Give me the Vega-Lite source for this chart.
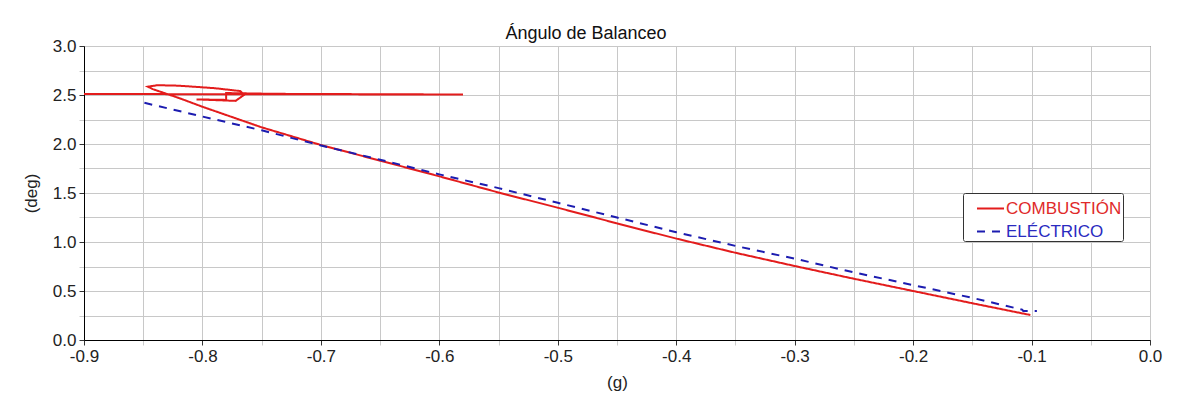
{
  "$schema": "https://vega.github.io/schema/vega-lite/v6.json",
  "width": 1066,
  "height": 294,
  "autosize": {"type": "none"},
  "padding": {"left": 84, "top": 46, "right": 42, "bottom": 68},
  "background": "#ffffff",
  "config": {
    "font": "Liberation Sans",
    "view": {"stroke": "#333333", "strokeWidth": 1}
  },
  "title": {
    "text": "Ángulo de Balanceo",
    "font": "Liberation Sans",
    "fontSize": 18,
    "fontWeight": "normal",
    "color": "#111111",
    "anchor": "middle",
    "dx": -31,
    "dy": 28,
    "baseline": "alphabetic",
    "offset": 8
  },
  "data": {
    "values": [
      {"s": "COMBUSTIÓN", "i": 0, "x": -0.9, "y": 2.51},
      {"s": "COMBUSTIÓN", "i": 1, "x": -0.58, "y": 2.505},
      {"s": "COMBUSTIÓN", "i": 2, "x": -0.7, "y": 2.51},
      {"s": "COMBUSTIÓN", "i": 3, "x": -0.74, "y": 2.512},
      {"s": "COMBUSTIÓN", "i": 4, "x": -0.78, "y": 2.52},
      {"s": "COMBUSTIÓN", "i": 5, "x": -0.78, "y": 2.45},
      {"s": "COMBUSTIÓN", "i": 6, "x": -0.805, "y": 2.455},
      {"s": "COMBUSTIÓN", "i": 7, "x": -0.772, "y": 2.44},
      {"s": "COMBUSTIÓN", "i": 8, "x": -0.765, "y": 2.5},
      {"s": "COMBUSTIÓN", "i": 9, "x": -0.768, "y": 2.54},
      {"s": "COMBUSTIÓN", "i": 10, "x": -0.79, "y": 2.57},
      {"s": "COMBUSTIÓN", "i": 11, "x": -0.82, "y": 2.595},
      {"s": "COMBUSTIÓN", "i": 12, "x": -0.838, "y": 2.6},
      {"s": "COMBUSTIÓN", "i": 13, "x": -0.846, "y": 2.585},
      {"s": "COMBUSTIÓN", "i": 14, "x": -0.842, "y": 2.56},
      {"s": "COMBUSTIÓN", "i": 15, "x": -0.82, "y": 2.47},
      {"s": "COMBUSTIÓN", "i": 16, "x": -0.8, "y": 2.38},
      {"s": "COMBUSTIÓN", "i": 17, "x": -0.75, "y": 2.17},
      {"s": "COMBUSTIÓN", "i": 18, "x": -0.7, "y": 1.99},
      {"s": "COMBUSTIÓN", "i": 19, "x": -0.65, "y": 1.83},
      {"s": "COMBUSTIÓN", "i": 20, "x": -0.6, "y": 1.67},
      {"s": "COMBUSTIÓN", "i": 21, "x": -0.55, "y": 1.505},
      {"s": "COMBUSTIÓN", "i": 22, "x": -0.5, "y": 1.35},
      {"s": "COMBUSTIÓN", "i": 23, "x": -0.45, "y": 1.19},
      {"s": "COMBUSTIÓN", "i": 24, "x": -0.4, "y": 1.035},
      {"s": "COMBUSTIÓN", "i": 25, "x": -0.35, "y": 0.89},
      {"s": "COMBUSTIÓN", "i": 26, "x": -0.3, "y": 0.755},
      {"s": "COMBUSTIÓN", "i": 27, "x": -0.25, "y": 0.625},
      {"s": "COMBUSTIÓN", "i": 28, "x": -0.2, "y": 0.5},
      {"s": "COMBUSTIÓN", "i": 29, "x": -0.15, "y": 0.375},
      {"s": "COMBUSTIÓN", "i": 30, "x": -0.101, "y": 0.255},
      {"s": "ELÉCTRICO", "i": 0, "x": -0.849, "y": 2.42},
      {"s": "ELÉCTRICO", "i": 1, "x": -0.8, "y": 2.28},
      {"s": "ELÉCTRICO", "i": 2, "x": -0.75, "y": 2.14},
      {"s": "ELÉCTRICO", "i": 3, "x": -0.7, "y": 1.985},
      {"s": "ELÉCTRICO", "i": 4, "x": -0.65, "y": 1.84},
      {"s": "ELÉCTRICO", "i": 5, "x": -0.6, "y": 1.69},
      {"s": "ELÉCTRICO", "i": 6, "x": -0.55, "y": 1.55},
      {"s": "ELÉCTRICO", "i": 7, "x": -0.5, "y": 1.4},
      {"s": "ELÉCTRICO", "i": 8, "x": -0.45, "y": 1.25},
      {"s": "ELÉCTRICO", "i": 9, "x": -0.4, "y": 1.1},
      {"s": "ELÉCTRICO", "i": 10, "x": -0.35, "y": 0.96},
      {"s": "ELÉCTRICO", "i": 11, "x": -0.3, "y": 0.83},
      {"s": "ELÉCTRICO", "i": 12, "x": -0.25, "y": 0.69},
      {"s": "ELÉCTRICO", "i": 13, "x": -0.2, "y": 0.56},
      {"s": "ELÉCTRICO", "i": 14, "x": -0.15, "y": 0.43},
      {"s": "ELÉCTRICO", "i": 15, "x": -0.108, "y": 0.31},
      {"s": "ELÉCTRICO", "i": 16, "x": -0.107, "y": 0.296},
      {"s": "ELÉCTRICO", "i": 17, "x": -0.0955, "y": 0.296}
    ]
  },
  "mark": {"type": "line", "strokeWidth": 2, "clip": true},
  "encoding": {
    "x": {
      "field": "x",
      "type": "quantitative",
      "scale": {"domain": [-0.9, 0], "nice": false, "zero": false},
      "axis": {
        "title": "(g)",
        "titleFont": "Liberation Sans",
        "titleFontSize": 17,
        "titleFontWeight": "normal",
        "titleColor": "#222222",
        "titlePadding": 10,
        "values": [-0.9, -0.85, -0.8, -0.75, -0.7, -0.65, -0.6, -0.55, -0.5, -0.45, -0.4, -0.35, -0.3, -0.25, -0.2, -0.15, -0.1, -0.05, 0],
        "labelExpr": "abs(round(datum.value*100)) % 10 == 0 ? ((datum.value < -0.001 ? '-' : '') + format(abs(datum.value), '.1f')) : ''",
        "labelFont": "Liberation Sans",
        "labelFontSize": 17,
        "labelColor": "#222222",
        "labelPadding": 3,
        "labelFlush": false,
        "labelOverlap": false,
        "grid": true,
        "gridColor": "#c8c8c8",
        "gridWidth": 1,
        "domainColor": "#000000",
        "domainWidth": 1,
        "tickSize": 5,
        "tickColor": {"condition": {"test": "abs(round(datum.value*100)) % 10 == 0", "value": "#333333"}, "value": "#cccccc"}
      }
    },
    "y": {
      "field": "y",
      "type": "quantitative",
      "scale": {"domain": [0, 3], "nice": false},
      "axis": {
        "title": "(deg)",
        "titleFont": "Liberation Sans",
        "titleFontSize": 17,
        "titleFontWeight": "normal",
        "titleColor": "#222222",
        "titlePadding": 12,
        "values": [0, 0.25, 0.5, 0.75, 1, 1.25, 1.5, 1.75, 2, 2.25, 2.5, 2.75, 3],
        "labelExpr": "round(datum.value*100) % 50 == 0 ? format(datum.value, '.1f') : ''",
        "labelFont": "Liberation Sans",
        "labelFontSize": 17,
        "labelColor": "#222222",
        "labelPadding": 3,
        "labelFlush": false,
        "labelOverlap": false,
        "grid": true,
        "gridColor": "#c8c8c8",
        "gridWidth": 1,
        "domainColor": "#000000",
        "domainWidth": 1,
        "tickSize": 5,
        "tickColor": {"condition": {"test": "round(datum.value*100) % 50 == 0", "value": "#333333"}, "value": "#cccccc"}
      }
    },
    "color": {
      "field": "s",
      "type": "nominal",
      "scale": {"domain": ["COMBUSTIÓN", "ELÉCTRICO"], "range": ["#e31c1c", "#1c1cb0"]},
      "legend": {
        "title": null,
        "orient": "none",
        "legendX": 879,
        "legendY": 147,
        "strokeColor": "#333333",
        "fillColor": "#ffffff",
        "cornerRadius": 2,
        "padding": 1,
        "symbolType": "stroke",
        "symbolSize": 729,
        "symbolOffset": 12,
        "symbolStrokeWidth": 2,
        "labelFont": "Liberation Sans",
        "labelFontSize": 17,
        "labelOffset": 1,
        "rowPadding": -7,
        "labelExpr": "datum.label + '\u00a0\u00a0'",
        "encode": {
          "labels": {
            "update": {
              "fill": {"signal": "datum.value == 'COMBUSTIÓN' ? '#e02a2a' : '#2a2ac0'"}
            }
          }
        }
      }
    },
    "strokeDash": {
      "field": "s",
      "type": "nominal",
      "scale": {"domain": ["COMBUSTIÓN", "ELÉCTRICO"], "range": [[1, 0], [8, 7]]},
      "legend": {
        "title": null,
        "orient": "none",
        "legendX": 879,
        "legendY": 147,
        "strokeColor": "#333333",
        "fillColor": "#ffffff",
        "cornerRadius": 2,
        "padding": 1,
        "symbolType": "stroke",
        "symbolSize": 729,
        "symbolOffset": 12,
        "symbolStrokeWidth": 2,
        "labelFont": "Liberation Sans",
        "labelFontSize": 17,
        "labelOffset": 1,
        "rowPadding": -7,
        "labelExpr": "datum.label + '\u00a0\u00a0'",
        "encode": {
          "labels": {
            "update": {
              "fill": {"signal": "datum.value == 'COMBUSTIÓN' ? '#e02a2a' : '#2a2ac0'"}
            }
          }
        }
      }
    },
    "order": {"field": "i", "type": "quantitative"}
  }
}
